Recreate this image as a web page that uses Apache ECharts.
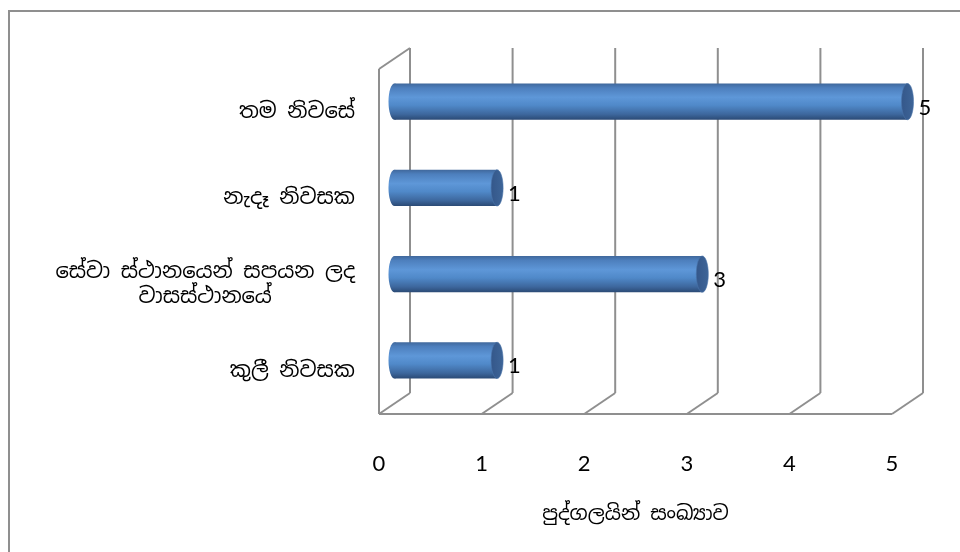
<!DOCTYPE html>
<html>
<head>
<meta charset="utf-8">
<script src="https://cdn.jsdelivr.net/npm/echarts@6/dist/echarts.min.js"></script>
<style>
  html, body { margin: 0; padding: 0; background: #ffffff; }
  #chart { width: 960px; height: 552px; }
</style>
</head>
<body>
<div id="chart"></div>
<script>
// Residence type vs number of people
const categories = ['තම නිවසේ', 'නැදෑ නිවසක', 'සේවා ස්ථානයෙන් සපයන ලද\nවාසස්ථානයේ', 'කුලී නිවසක'];
const counts = [5, 1, 3, 1];
const tickValues = [0, 1, 2, 3, 4, 5];
const axisTitle = 'පුද්ගලයින් සංඛ්‍යාව';

// Depth of the pseudo-3D box (back wall offset from the front plane)
const DX = 31;
const DY = -21;
const WALL_COLOR = '#8f8f8f';
const SINHALA_FONT = "'Noto Sans Sinhala', 'Iskoola Pota', 'Noto Sans', 'DejaVu Sans', sans-serif";
const DIGIT_FONT = "Lato, 'Open Sans', sans-serif";

function wallLine(x1, y1, x2, y2) {
  return {
    type: 'line',
    shape: { x1: x1, y1: y1, x2: x2, y2: y2 },
    style: { stroke: WALL_COLOR, lineWidth: 2 }
  };
}

// Back wall gridlines, floor and side wall
function renderWalls(params, api) {
  const v = api.value(0);
  const cs = params.coordSys;
  const fx = api.coord([v, 0])[0];
  const top = cs.y;
  const bottom = cs.y + cs.height;
  const children = [
    wallLine(fx + DX, top + DY, fx + DX, bottom + DY),
    wallLine(fx, bottom, fx + DX, bottom + DY)
  ];
  if (v === tickValues[0]) {
    const ex = api.coord([tickValues[tickValues.length - 1], 0])[0];
    children.push(wallLine(fx, top, fx, bottom));
    children.push(wallLine(fx, top, fx + DX, top + DY));
    children.push(wallLine(fx, bottom, ex, bottom));
  }
  return { type: 'group', children: children };
}

// Horizontal cylinder drawn at mid depth
function renderCylinder(params, api) {
  const v = api.value(0);
  const ci = api.value(1);
  const cs = params.coordSys;
  const band = cs.height / categories.length;
  const h = band * 0.42;
  const start = api.coord([0, ci]);
  const end = api.coord([v, ci]);
  const x0 = start[0] + DX / 2;
  const x1 = end[0] + DX / 2;
  const cy = start[1] + DY / 2;
  const rx = 6;
  const bodyFill = {
    type: 'linear', x: 0, y: 0, x2: 0, y2: 1,
    colorStops: [
      { offset: 0, color: '#40689c' },
      { offset: 0.12, color: '#4d7fbd' },
      { offset: 0.38, color: '#5e97d8' },
      { offset: 0.6, color: '#5089c9' },
      { offset: 0.85, color: '#3d679d' },
      { offset: 1, color: '#2b4a75' }
    ]
  };
  const capFill = {
    type: 'linear', x: 0, y: 0, x2: 1, y2: 0,
    colorStops: [
      { offset: 0, color: '#34578a' },
      { offset: 1, color: '#3e6598' }
    ]
  };
  return {
    type: 'group',
    children: [
      { type: 'ellipse', shape: { cx: x0, cy: cy, rx: rx, ry: h / 2 }, style: { fill: bodyFill } },
      { type: 'rect', shape: { x: x0, y: cy - h / 2, width: x1 - x0, height: h }, style: { fill: bodyFill } },
      { type: 'ellipse', shape: { cx: x1, cy: cy, rx: rx, ry: h / 2 }, style: { fill: capFill, stroke: '#4a74aa', lineWidth: 0.6 } },
      {
        type: 'text',
        style: {
          x: x1 + rx + 5, y: cy + 6, text: String(v),
          fill: '#000000', font: '22px ' + DIGIT_FONT,
          align: 'left', verticalAlign: 'middle'
        }
      }
    ]
  };
}

const chart = echarts.init(document.getElementById('chart'), null, { renderer: 'canvas' });
chart.setOption({
  animation: false,
  backgroundColor: '#ffffff',
  graphic: [{
    type: 'rect', silent: true, z: -10,
    shape: { x: 9, y: 11, width: 1000, height: 600 },
    style: { fill: null, stroke: WALL_COLOR, lineWidth: 2 }
  }],
  grid: { left: 379, top: 69, right: 68, bottom: 138 },
  xAxis: {
    type: 'value', min: 0, max: 5, interval: 1,
    axisLine: { show: false }, axisTick: { show: false }, splitLine: { show: false },
    axisLabel: { color: '#000000', fontSize: 22, fontFamily: DIGIT_FONT, margin: 39 },
    name: axisTitle, nameLocation: 'middle', nameGap: 90,
    nameTextStyle: { color: '#000000', fontSize: 20, fontFamily: SINHALA_FONT }
  },
  yAxis: {
    type: 'category', data: categories, inverse: true,
    axisLine: { show: false }, axisTick: { show: false }, splitLine: { show: false },
    axisLabel: {
      margin: 24,
      formatter: function (value) { return '{c|' + value + '}'; },
      rich: { c: { align: 'center', color: '#000000', fontSize: 21, lineHeight: 25, fontFamily: SINHALA_FONT } }
    }
  },
  series: [
    {
      type: 'custom', name: 'walls', silent: true, z: 1,
      data: tickValues.map(function (t) { return [t, 0]; }),
      encode: { x: 0, y: 1 },
      renderItem: renderWalls
    },
    {
      type: 'custom', name: 'count', z: 2,
      data: counts.map(function (c, i) { return [c, i]; }),
      encode: { x: 0, y: 1 },
      renderItem: renderCylinder
    }
  ]
});
</script>
</body>
</html>
